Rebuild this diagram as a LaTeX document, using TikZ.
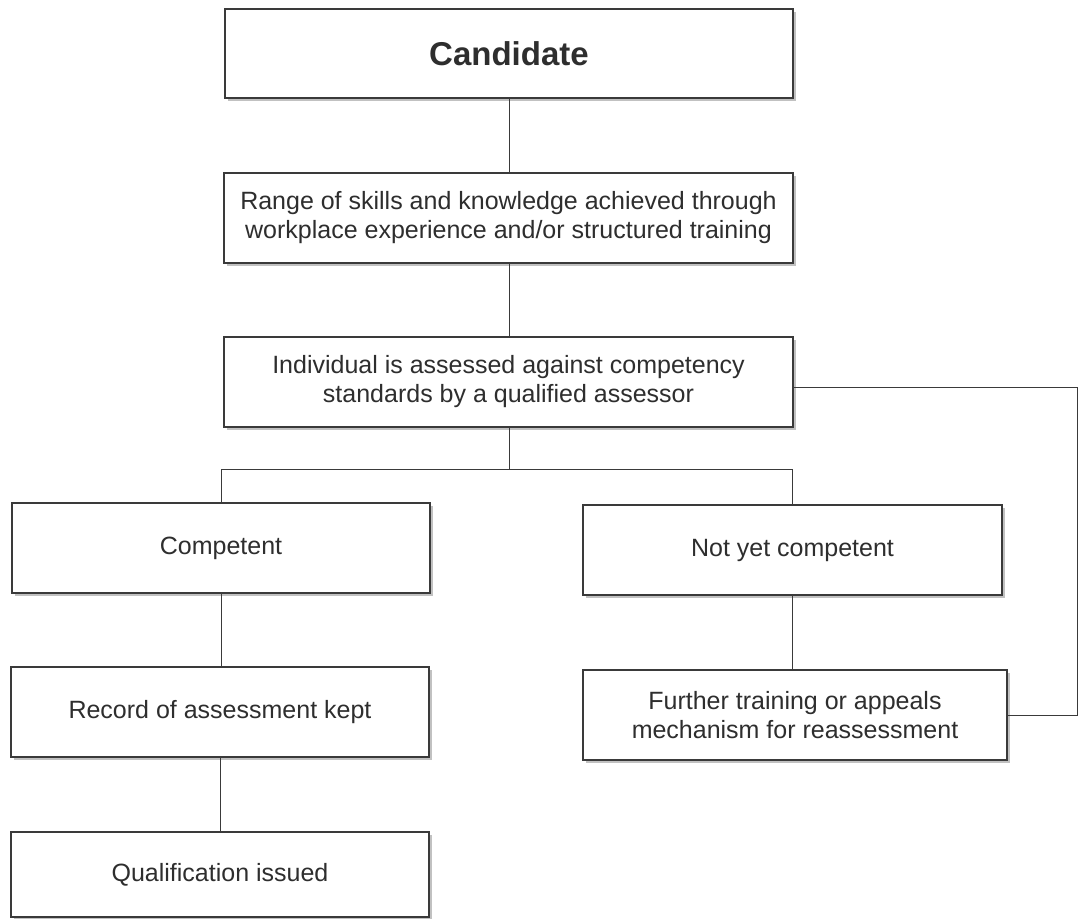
\documentclass[tikz,border=0pt]{standalone}
\usepackage{fontspec}
\setmainfont{Liberation Sans}
\usetikzlibrary{shadows}
\definecolor{ink}{HTML}{2E2E2E}
\definecolor{edge}{HTML}{3A3A3A}
\tikzset{
  box/.style={draw=edge, line width=0.75pt, fill=white, rectangle, align=center,
    text=ink, inner sep=0pt, font=\fontsize{12.5}{14.5}\selectfont,
    drop shadow={shadow xshift=1.6pt, shadow yshift=-1.6pt, fill=black!30, opacity=0.8}},
  conn/.style={draw=edge, line width=0.5pt}
}
\begin{document}
\begin{tikzpicture}[x=0.5pt,y=-0.5pt]
\useasboundingbox (0,0) rectangle (1078,918);
\fill[white] (0,0) rectangle (1078,918);
\node[box, minimum width=284pt, minimum height=44.5pt, font=\fontsize{16.5}{20}\bfseries\selectfont] (cand) at (509,53.5) {Candidate};
\node[box, minimum width=284.5pt, minimum height=45pt] (range) at (508.5,218)
  {Range of skills and knowledge achieved through\\workplace experience and/or structured training};
\node[box, minimum width=284.5pt, minimum height=45pt] (indiv) at (508.5,382)
  {Individual is assessed against competency\\standards by a qualified assessor};
\node[box, minimum width=209pt, minimum height=45pt] (comp) at (221,548) {Competent};
\node[box, minimum width=209.5pt, minimum height=45pt] (notyet) at (792.5,550) {Not yet competent};
\node[box, minimum width=212pt, minimum height=45pt] (further) at (795,715)
  {Further training or appeals\\mechanism for reassessment};
\node[box, minimum width=209pt, minimum height=45pt] (record) at (220,712) {Record of assessment kept};
\node[box, minimum width=209pt, minimum height=42.5pt] (qual) at (220,874.5) {Qualification issued};

\coordinate (spine) at (509,0);
\coordinate (bj) at (509,469);
\coordinate (rt) at (1077,387);

\draw[conn] (cand.south -| spine) -- (range.north -| spine);
\draw[conn] (range.south -| spine) -- (indiv.north -| spine);
\draw[conn] (indiv.south -| bj) -- (bj);
\draw[conn] (comp.north) |- (bj) -| (notyet.north);
\draw[conn] (notyet.south) -- (further.north -| notyet.south);
\draw[conn] (comp.south) -- (record.north -| comp.south);
\draw[conn] (record.south) -- (qual.north -| record.south);
\draw[conn] (indiv.east |- rt) -- (rt) |- (further.east);
\end{tikzpicture}
\end{document}
